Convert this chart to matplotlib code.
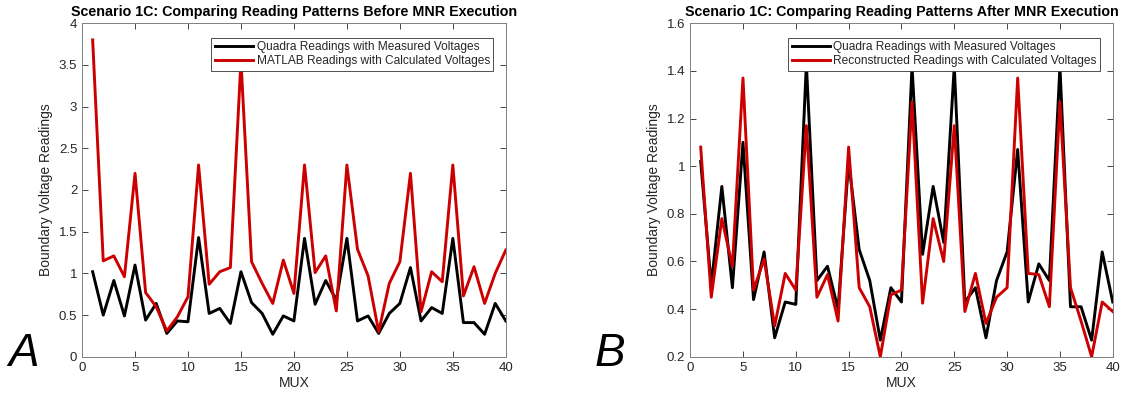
import matplotlib
matplotlib.use("Agg")
import matplotlib.pyplot as plt

plt.rcParams["font.family"] = ["Liberation Sans", "DejaVu Sans"]

mux = list(range(1, 41))

# Quadra readings (measured voltages), same in both panels
quadra = [1.02, 0.50, 0.915, 0.49, 1.10, 0.44, 0.64, 0.28, 0.43, 0.42,
          1.43, 0.52, 0.58, 0.40, 1.02, 0.65, 0.52, 0.27, 0.49, 0.43,
          1.42, 0.63, 0.915, 0.68, 1.42, 0.43, 0.49, 0.28, 0.52, 0.64,
          1.07, 0.43, 0.59, 0.52, 1.42, 0.41, 0.41, 0.27, 0.64, 0.43]

# MATLAB readings before MNR
matlab_before = [3.80, 1.15, 1.21, 0.96, 2.20, 0.77, 0.60, 0.31, 0.48, 0.72,
                 2.30, 0.87, 1.02, 1.07, 3.55, 1.14, 0.88, 0.64, 1.16, 0.76,
                 2.30, 1.01, 1.21, 0.55, 2.30, 1.29, 0.97, 0.30, 0.88, 1.14,
                 2.20, 0.54, 1.02, 0.90, 2.30, 0.73, 1.08, 0.64, 1.00, 1.28]

# Reconstructed readings after MNR
recon_after = [1.08, 0.45, 0.78, 0.58, 1.37, 0.48, 0.61, 0.33, 0.55, 0.48,
               1.17, 0.45, 0.545, 0.35, 1.08, 0.49, 0.41, 0.20, 0.46, 0.48,
               1.27, 0.425, 0.78, 0.60, 1.17, 0.39, 0.55, 0.34, 0.45, 0.49,
               1.37, 0.55, 0.545, 0.41, 1.27, 0.49, 0.35, 0.20, 0.43, 0.39]

RED = "#CC0000"
GREY = "#262626"


def style_axes(ax):
    ax.tick_params(direction="in", top=True, right=True, labelsize=9.5,
                   colors=GREY, length=4, width=0.6)
    for s in ax.spines.values():
        s.set_color("#808080")
        s.set_linewidth(0.7)
    ax.set_xlim(0, 40)
    ax.set_xticks(range(0, 41, 5))
    ax.set_xlabel("MUX", fontsize=10, color=GREY, labelpad=2)
    ax.set_ylabel("Boundary Voltage Readings", fontsize=10, color=GREY)


fig = plt.figure(figsize=(11.24, 4.0), dpi=100)
ax1 = fig.add_axes([0.073, 0.108, 0.377, 0.834])
ax2 = fig.add_axes([0.614, 0.108, 0.376, 0.834])

ax1.plot(mux, quadra, color="black", lw=2.1, label="Quadra Readings with Measured Voltages")
ax1.plot(mux, matlab_before, color=RED, lw=2.1, label="MATLAB Readings with Calculated Voltages")
ax1.set_ylim(0, 4)
ax1.set_yticks([0, 0.5, 1, 1.5, 2, 2.5, 3, 3.5, 4])
ax1.set_yticklabels(["0", "0.5", "1", "1.5", "2", "2.5", "3", "3.5", "4"])
style_axes(ax1)
ax1.set_title("Scenario 1C: Comparing Reading Patterns Before MNR Execution",
              fontsize=10.3, fontweight="bold", pad=5)

ax2.plot(mux, quadra, color="black", lw=2.1, label="Quadra Readings with Measured Voltages")
ax2.plot(mux, recon_after, color=RED, lw=2.1, label="Reconstructed Readings with Calculated Voltages")
ax2.set_ylim(0.2, 1.6)
ax2.set_yticks([0.2, 0.4, 0.6, 0.8, 1.0, 1.2, 1.4, 1.6])
ax2.set_yticklabels(["0.2", "0.4", "0.6", "0.8", "1", "1.2", "1.4", "1.6"])
style_axes(ax2)
ax2.set_title("Scenario 1C: Comparing Reading Patterns After MNR Execution",
              fontsize=10.3, fontweight="bold", pad=5)

for ax in (ax1, ax2):
    leg = ax.legend(loc="upper right", fontsize=8.6, fancybox=False,
                    framealpha=1, edgecolor="#333333", handlelength=3.2,
                    handletextpad=0.3, borderpad=0.3, labelspacing=0.2,
                    bbox_to_anchor=(0.985, 0.975))
    leg.get_frame().set_linewidth(0.6)
    for t in leg.get_texts():
        t.set_color(GREY)

fig.text(0.021, 0.085, "A", fontsize=33, style="italic", ha="center", va="baseline")
fig.text(0.543, 0.085, "B", fontsize=33, style="italic", ha="center", va="baseline")

fig.savefig("out.png", dpi=100)
